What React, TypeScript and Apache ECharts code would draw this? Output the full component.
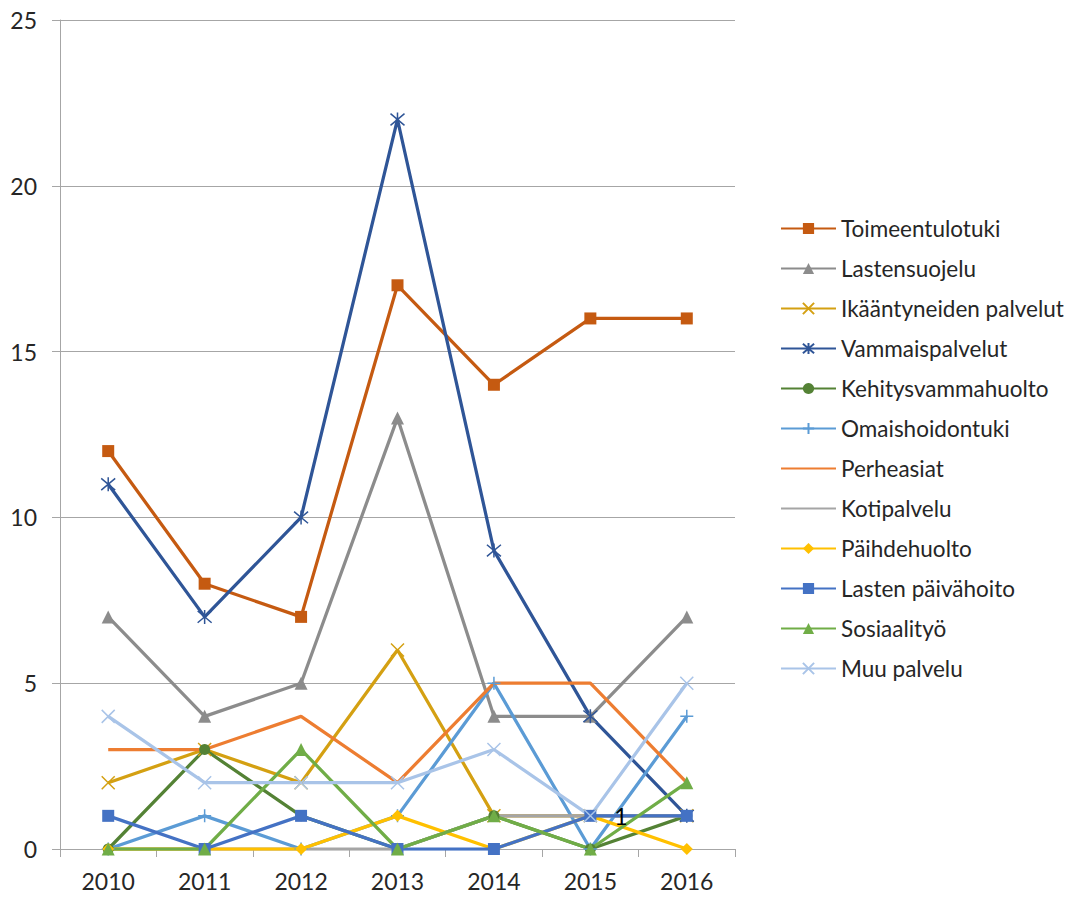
import React, { useEffect, useRef } from "react";
import * as echarts from "echarts";

const years = ["2010", "2011", "2012", "2013", "2014", "2015", "2016"];

const toimeentulotuki = [12, 8, 7, 17, 14, 16, 16];
const lastensuojelu = [7, 4, 5, 13, 4, 4, 7];
const ikaantyneiden = [2, 3, 2, 6, 1, 1, 1];
const vammaispalvelut = [11, 7, 10, 22, 9, 4, 1];
const kehitysvammahuolto = [0, 3, 1, 0, 1, 0, 1];
const omaishoidontuki = [0, 1, 0, 1, 5, 0, 4];
const perheasiat = [3, 3, 4, 2, 5, 5, 2];
const kotipalvelu = [0, 0, 0, 0, 1, 1, 1];
const paihdehuolto = [0, 0, 0, 1, 0, 1, 0];
const lastenPaivahoito = [1, 0, 1, 0, 0, 1, 1];
const sosiaalityo = [0, 0, 3, 0, 1, 0, 2];
const muuPalvelu = [4, 2, 2, 2, 3, 1, 5];

const X_PATH = "path://M0,0L10,10M10,0L0,10";
const STAR_PATH = "path://M0,0L10,10M10,0L0,10M5,-1L5,11";
const PLUS_PATH = "path://M5,0L5,10M0,5L10,5";

const FONT = "Lato";

type Def = { name: string; data: number[]; color: string; symbol: string; size: number; labelIdx?: number };

const defs: Def[] = [
  { name: "Toimeentulotuki", data: toimeentulotuki, color: "#C55A11", symbol: "rect", size: 12 },
  { name: "Lastensuojelu", data: lastensuojelu, color: "#8C8C8C", symbol: "triangle", size: 13 },
  { name: "Ikääntyneiden palvelut", data: ikaantyneiden, color: "#D4A012", symbol: X_PATH, size: 13 },
  { name: "Vammaispalvelut", data: vammaispalvelut, color: "#2F5597", symbol: STAR_PATH, size: 14 },
  { name: "Kehitysvammahuolto", data: kehitysvammahuolto, color: "#548235", symbol: "circle", size: 11 },
  { name: "Omaishoidontuki", data: omaishoidontuki, color: "#5B9BD5", symbol: PLUS_PATH, size: 13 },
  { name: "Perheasiat", data: perheasiat, color: "#ED7D31", symbol: "none", size: 0 },
  { name: "Kotipalvelu", data: kotipalvelu, color: "#A5A5A5", symbol: "none", size: 0 },
  { name: "Päihdehuolto", data: paihdehuolto, color: "#FFC000", symbol: "diamond", size: 12 },
  { name: "Lasten päivähoito", data: lastenPaivahoito, color: "#4472C4", symbol: "rect", size: 12, labelIdx: 5 },
  { name: "Sosiaalityö", data: sosiaalityo, color: "#70AD47", symbol: "triangle", size: 13 },
  { name: "Muu palvelu", data: muuPalvelu, color: "#A9C4E8", symbol: X_PATH, size: 13 },
];

export default function App() {
  const ref = useRef<HTMLDivElement>(null);
  useEffect(() => {
    if (!ref.current) return;
    const chart = echarts.init(ref.current, null, { renderer: "svg" });
    const isPath = (s: string) => s.startsWith("path://");
    chart.setOption({
      animation: false,
      backgroundColor: "#ffffff",
      textStyle: { fontFamily: FONT },
      grid: { left: 60, right: 332, top: 20, bottom: 48 },
      legend: {
        orient: "vertical",
        left: 775,
        top: 212,
        itemWidth: 55,
        itemHeight: 14,
        itemGap: 17,
        textStyle: { fontFamily: FONT, fontSize: 22.5, color: "#262626" },
        data: defs.map((d) =>
          d.symbol === "none" ? { name: d.name, itemStyle: { opacity: 0 } } : { name: d.name }
        ),
      },
      xAxis: {
        type: "category",
        data: years,
        boundaryGap: true,
        axisLine: { show: true, lineStyle: { color: "#A6A6A6", width: 1 } },
        axisTick: { show: true, length: 8, lineStyle: { color: "#A6A6A6" } },
        axisLabel: { fontFamily: FONT, fontSize: 23, color: "#262626", margin: 20 },
      },
      yAxis: {
        type: "value",
        min: 0,
        max: 25,
        interval: 5,
        axisLine: { show: true, lineStyle: { color: "#A6A6A6", width: 1 } },
        axisTick: { show: true, length: 8, lineStyle: { color: "#A6A6A6" } },
        axisLabel: { fontFamily: FONT, fontSize: 23, color: "#262626", margin: 23 },
        splitLine: { show: true, lineStyle: { color: "#A6A6A6", width: 1 } },
      },
      series: defs.map((d) => ({
        name: d.name,
        type: "line",
        symbol: d.symbol,
        symbolSize: d.size,
        showSymbol: d.symbol !== "none",
        lineStyle: { color: d.color, width: 3.25 },
        itemStyle: isPath(d.symbol)
          ? { color: d.color, borderColor: d.color, borderWidth: 1.5 }
          : { color: d.color, borderWidth: 0 },
        emphasis: { disabled: true },
        data: d.data.map((v, i) =>
          d.labelIdx === i
            ? {
                value: v,
                label: {
                  show: true,
                  position: "right",
                  distance: 18,
                  fontFamily: FONT,
                  fontSize: 23,
                  color: "#000000",
                },
              }
            : v
        ),
      })),
    });
    return () => chart.dispose();
  }, []);
  return (
    <div
      ref={ref}
      style={{ position: "fixed", left: 0, top: 0, width: 1067, height: 897, background: "#fff" }}
    />
  );
}
